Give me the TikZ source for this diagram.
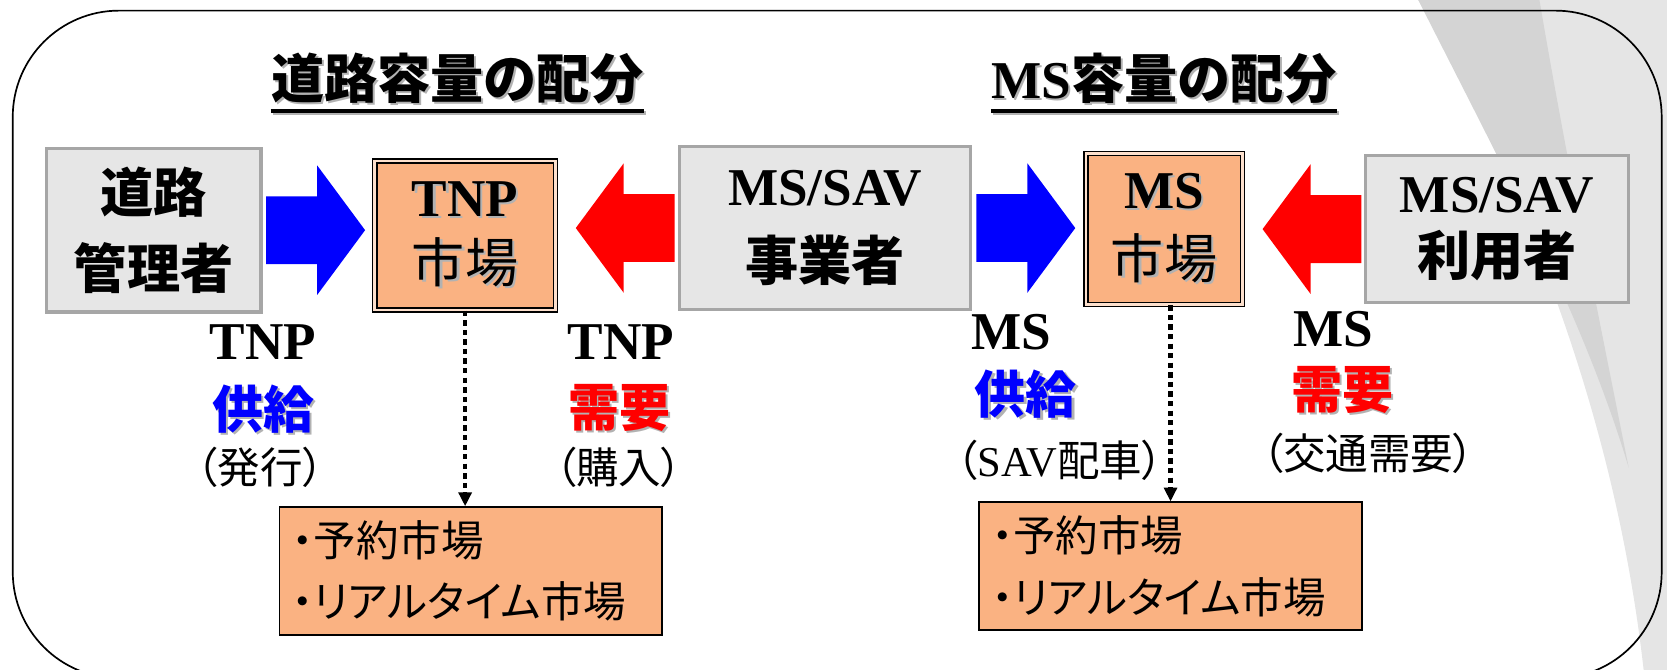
\documentclass[tikz,border=0pt]{standalone}
\usepackage{fontspec}
\setmainfont{Liberation Serif}
\newfontfamily\jp{Noto Sans CJK JP}
\newfontfamily\jpp{Noto Sans CJK JP}[RawFeature=+palt]
\usepackage{tikz}
\usetikzlibrary{positioning,shapes.arrows,arrows.meta}

\definecolor{actorfill}{RGB}{230,230,230}
\definecolor{actorline}{RGB}{166,166,166}
\definecolor{mkt}{RGB}{250,178,130}
\definecolor{curlA}{RGB}{229,229,229}
\definecolor{curlB}{RGB}{212,212,212}

\newcommand{\shd}[1]{{\leavevmode\rlap{\kern1pt\raisebox{-1pt}{\textcolor{black!30}{#1}}}#1}}

\begin{document}
\begin{tikzpicture}[x=0.5pt,y=-0.5pt,
    actor/.style={draw=actorline, line width=1.5pt, fill=actorfill, align=center, inner sep=0pt},
    market/.style={draw=black, line width=0.7pt, double=mkt!40!white, double distance=1.2pt,
                   fill=mkt, align=center, inner sep=0pt},
    mktlist/.style={draw=black, line width=0.8pt, fill=mkt, align=left, text width=168pt,
                    inner xsep=6pt, minimum height=60pt, font=\jpp\fontsize{20}{29}\selectfont},
    supplyarrow/.style={single arrow, fill=blue, inner xsep=0pt, inner ysep=15.75pt,
                        minimum height=46.5pt, single arrow head extend=14.5pt,
                        single arrow tip angle=107},
    demandarrow/.style={supplyarrow, fill=red, shape border rotate=180},
    flow/.style={line width=2.2pt, dash pattern=on 2.5pt off 2pt, -{Triangle[length=6.5pt,width=6pt]}},
    lbl/.style={inner sep=0pt}]
    \useasboundingbox (0,0) rectangle (1568,630);
    \clip (0,0) rectangle (1568,630);
    % background
    \fill[curlA] (1334,0) .. controls (1440,190) and (1520,400) .. (1546,630) -- (1568,630) -- (1568,0) -- cycle;
    \fill[curlB] (1334,0) .. controls (1420,170) and (1490,300) .. (1532,440)
                 .. controls (1500,280) and (1470,130) .. (1448,0) -- cycle;
    \draw[line width=0.8pt, rounded corners=50pt] (12,10) rectangle (1563,638);

    % titles
    \node[lbl, font=\fontsize{25}{30}\selectfont] (title1) at (430,75) {\shd{\jp\bfseries 道路容量の配分}};
    \node[lbl, font=\fontsize{25}{30}\selectfont] (title2) at (1095,75) {\shd{{\bfseries MS}{\jp\bfseries 容量の配分}}};
    \foreach \t in {title1,title2} {
      \draw[black!30, line width=1.5pt] ([xshift=1pt,yshift=-3pt]\t.south west) -- ([xshift=1pt,yshift=-3pt]\t.south east);
      \draw[line width=1.5pt] ([yshift=-2pt]\t.south west) -- ([yshift=-2pt]\t.south east);
    }

    % actors and markets
    \node[actor, minimum width=101pt, minimum height=77pt, font=\jp\bfseries\fontsize{25}{36}\selectfont] (road) at (144.5,216.5) {道路\\管理者};
    \node[supplyarrow, right=1.5pt of road] (supTNP) {};
    \node[market, minimum width=85pt, minimum height=70pt, font=\fontsize{25}{31}\selectfont] (tnp) at (437.5,221.5) {\shd{\bfseries TNP}\\\shd{\jp 市場}};
    \node[actor, minimum width=136.5pt, minimum height=77pt, font=\fontsize{25}{35}\selectfont] (op) at (776,214.5) {\bfseries MS/SAV\\\jp\bfseries 事業者};
    \node[demandarrow, left=1.5pt of op] (demTNP) {};
    \node[supplyarrow, right=2pt of op] (supMS) {};
    \node[market, minimum width=73.5pt, minimum height=71pt, font=\fontsize{25}{33}\selectfont] (ms) at (1095,215.5) {\shd{\bfseries MS}\\\shd{\jp 市場}};
    \node[actor, minimum width=123.5pt, minimum height=69pt, font=\fontsize{25}{30}\selectfont] (user) at (1408,215.5) {\bfseries MS/SAV\\\jp\bfseries 利用者};
    \node[demandarrow, left=1pt of user] (demMS) {};

    % market types
    \node[mktlist] (tnplist) at (443,537) {・予約市場\\・リアルタイム市場};
    \node[mktlist] (mslist) at (1101,532.5) {・予約市場\\・リアルタイム市場};
    \draw[flow] (tnp.south) -- (tnp.south |- tnplist.north);
    \draw[flow] (mslist.north |- ms.south) -- (mslist.north);

    % supply / demand labels
    \node[lbl, font=\bfseries\fontsize{25}{30}\selectfont] (tnpS1) at (247.5,322) {TNP};
    \node[lbl, font=\jp\bfseries\fontsize{24}{30}\selectfont, text=blue] (tnpS2) at (248,386) {\shd{供給}};
    \node[lbl, font=\jpp\fontsize{20}{24}\selectfont] (tnpS3) at (245,440) {（発行）};
    \node[lbl, font=\bfseries\fontsize{25}{30}\selectfont] (tnpD1) at (584,322) {TNP};
    \node[lbl, font=\jp\bfseries\fontsize{24}{30}\selectfont, text=red] (tnpD2) at (583,385) {\shd{需要}};
    \node[lbl, font=\jpp\fontsize{20}{24}\selectfont] (tnpD3) at (582,440) {（購入）};
    \node[lbl, font=\bfseries\fontsize{25}{30}\selectfont] (msS1) at (951,312) {MS};
    \node[lbl, font=\jp\bfseries\fontsize{24}{30}\selectfont, text=blue] (msS2) at (965,372) {\shd{供給}};
    \node[lbl, font=\jpp\fontsize{20}{24}\selectfont] (msS3) at (997,433) {（\rmfamily SAV\jpp 配車）};
    \node[lbl, font=\bfseries\fontsize{25}{30}\selectfont] (msD1) at (1254,310) {MS};
    \node[lbl, font=\jp\bfseries\fontsize{24}{30}\selectfont, text=red] (msD2) at (1263,368) {\shd{需要}};
    \node[lbl, font=\jpp\fontsize{20}{24}\selectfont] (msD3) at (1287,426) {（交通需要）};
\end{tikzpicture}
\end{document}
